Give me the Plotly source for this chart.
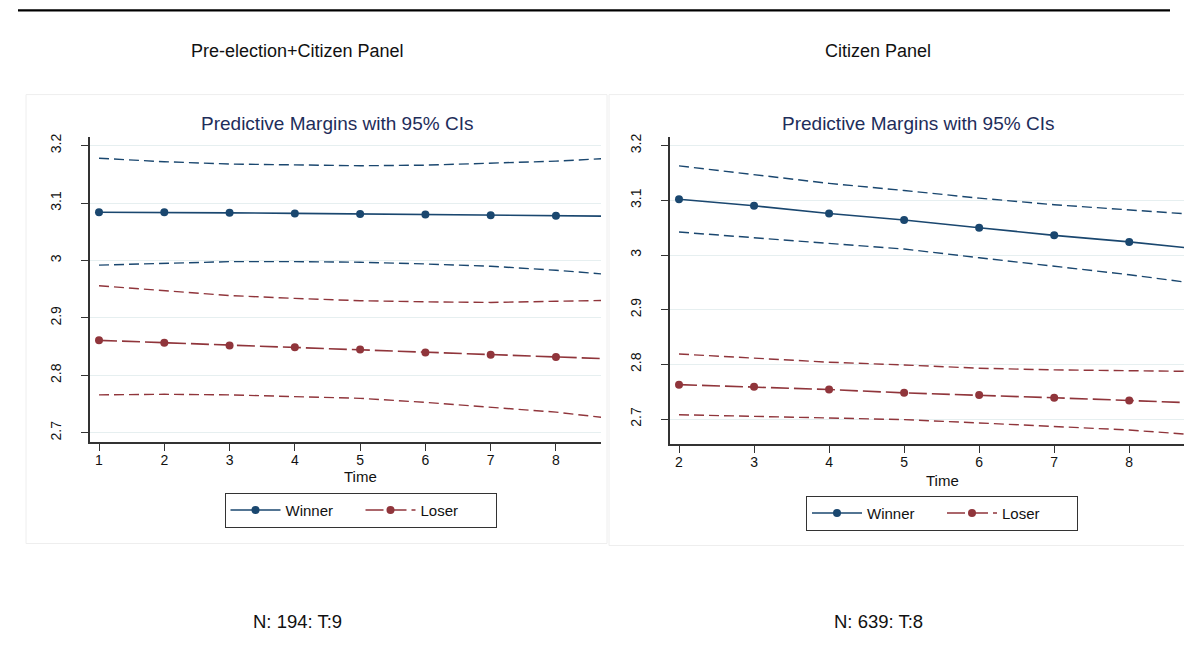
import plotly.graph_objects as go

# ---------------- data ----------------
time_left = [1, 2, 3, 4, 5, 6, 7, 8, 9]
win_left = [3.084, 3.084, 3.083, 3.082, 3.081, 3.080, 3.079, 3.078, 3.077]
win_left_hi = [3.178, 3.172, 3.168, 3.166, 3.165, 3.166, 3.169, 3.173, 3.179]
win_left_lo = [2.992, 2.995, 2.998, 2.998, 2.997, 2.994, 2.990, 2.983, 2.974]
los_left = [2.861, 2.857, 2.852, 2.849, 2.845, 2.840, 2.836, 2.832, 2.828]
los_left_hi = [2.956, 2.947, 2.939, 2.934, 2.930, 2.928, 2.927, 2.929, 2.931]
los_left_lo = [2.766, 2.767, 2.766, 2.763, 2.760, 2.753, 2.745, 2.736, 2.723]

time_right = [2, 3, 4, 5, 6, 7, 8, 9]
win_right = [3.102, 3.090, 3.076, 3.064, 3.050, 3.036, 3.024, 3.010]
win_right_hi = [3.163, 3.147, 3.131, 3.118, 3.104, 3.092, 3.082, 3.073]
win_right_lo = [3.042, 3.032, 3.021, 3.011, 2.995, 2.980, 2.964, 2.946]
los_right = [2.763, 2.759, 2.754, 2.748, 2.744, 2.739, 2.734, 2.729]
los_right_hi = [2.819, 2.811, 2.804, 2.799, 2.793, 2.790, 2.789, 2.787]
los_right_lo = [2.708, 2.705, 2.703, 2.699, 2.693, 2.687, 2.680, 2.670]

yticks = [2.7, 2.8, 2.9, 3.0, 3.1, 3.2]
ytick_text = ["2.7", "2.8", "2.9", "3", "3.1", "3.2"]

panel_titles = ["Pre-election+Citizen Panel", "Citizen Panel"]
panel_notes = ["N: 194: T:9", "N: 639: T:8"]
plot_title = "Predictive Margins with 95% CIs"

# ---------------- style ----------------
W, H = 1184, 657
FONT = "Liberation Sans, Arial, sans-serif"
NAVY = "#1a476f"
MAROON = "#90353b"
TITLE_COL = "#1e2d5a"
GRID = "#e6eff0"


def px(x):
    return x / W


def py(y):
    return 1 - y / H


fig = go.Figure()


def add_panel(t, w, wh, wl, l, lh, ll, xs, ys, legend):
    ci = dict(width=1.4, dash="10px,5px")
    for vals, col in ((wh, NAVY), (wl, NAVY), (lh, MAROON), (ll, MAROON)):
        fig.add_trace(go.Scatter(x=t, y=vals, mode="lines", line=dict(color=col, **ci),
                                 showlegend=False, xaxis=xs, yaxis=ys, hoverinfo="skip"))
    fig.add_trace(go.Scatter(x=t, y=w, mode="lines+markers", name="Winner",
                             line=dict(color=NAVY, width=1.6),
                             marker=dict(color=NAVY, size=8, symbol="circle"),
                             legend=legend, xaxis=xs, yaxis=ys))
    fig.add_trace(go.Scatter(x=t, y=l, mode="lines+markers", name="Loser",
                             line=dict(color=MAROON, width=1.6, dash="18px,5px"),
                             marker=dict(color=MAROON, size=8, symbol="circle"),
                             legend=legend, xaxis=xs, yaxis=ys))


add_panel(time_left, win_left, win_left_hi, win_left_lo, los_left, los_left_hi, los_left_lo,
          "x", "y", "legend")
add_panel(time_right, win_right, win_right_hi, win_right_lo, los_right, los_right_hi, los_right_lo,
          "x2", "y2", "legend2")

axis_common = dict(
    showline=True, linecolor="#333333", linewidth=1.5,
    ticks="outside", ticklen=7, tickcolor="#333333", tickwidth=1,
    tickfont=dict(family=FONT, size=14, color="#111111"),
    zeroline=False,
)
yaxis_extra = dict(tickvals=yticks, ticktext=ytick_text, tickangle=-90, showgrid=True,
                   gridcolor=GRID, gridwidth=1.2, ticklabelstandoff=15)
xaxis_extra = dict(showgrid=False, ticklabelstandoff=-3)

fig.update_layout(
    width=W, height=H,
    margin=dict(l=0, r=0, t=0, b=0),
    paper_bgcolor="white", plot_bgcolor="white",
    font=dict(family=FONT, color="#111111"),
    xaxis=dict(domain=[px(90), px(601)], range=[0.862, 8.69], tickvals=list(range(1, 9)),
               anchor="y", **xaxis_extra, **axis_common),
    yaxis=dict(domain=[py(441), py(134.3)], range=[2.684, 3.2156], anchor="x",
               **yaxis_extra, **axis_common),
    xaxis2=dict(domain=[px(670), 1.0], range=[1.88, 8.73], tickvals=list(range(2, 9)),
                anchor="y2", **xaxis_extra, **axis_common),
    yaxis2=dict(domain=[py(443), py(134.3)], range=[2.6545, 3.2164], anchor="x2",
                **yaxis_extra, **axis_common),
    legend=dict(orientation="h", x=px(360.5), xanchor="center", y=py(492), yanchor="top",
                bordercolor="#333333", borderwidth=1, bgcolor="white",
                font=dict(family=FONT, size=15, color="#111111"), entrywidth=70,
                itemwidth=50),
    legend2=dict(orientation="h", x=px(942), xanchor="center", y=py(495), yanchor="top",
                 bordercolor="#333333", borderwidth=1, bgcolor="white",
                 font=dict(family=FONT, size=15, color="#111111"), entrywidth=70,
                 itemwidth=50),
    showlegend=True,
)

# background boxes and top rule
shapes = [
    dict(type="line", xref="paper", yref="paper", x0=px(18), x1=px(1170), y0=py(7.5), y1=py(7.5),
         line=dict(color="black", width=2.2)),
    dict(type="rect", xref="paper", yref="paper", x0=px(26), x1=px(607), y0=py(543), y1=py(92),
         line=dict(color="#eeeeee", width=1), layer="below"),
    dict(type="rect", xref="paper", yref="paper", x0=px(609), x1=px(1190), y0=py(545), y1=py(92),
         line=dict(color="#eeeeee", width=1), layer="below"),
]
fig.update_layout(shapes=shapes)


def ann(text, x, y, size, color="#111111"):
    return dict(text=text, x=px(x), y=py(y), xref="paper", yref="paper", showarrow=False,
                xanchor="center", yanchor="middle", font=dict(family=FONT, size=size, color=color))


annotations = [
    ann(panel_titles[0], 297, 48, 18),
    ann(panel_titles[1], 878, 48, 18),
    ann(panel_notes[0], 297, 621, 18.5),
    ann(panel_notes[1], 878, 621, 18.5),
    ann(plot_title, 337, 121, 19, TITLE_COL),
    ann(plot_title, 918, 121, 19, TITLE_COL),
    ann("Time", 360, 476, 15),
    ann("Time", 942, 480, 15),
]
fig.update_layout(annotations=annotations)

fig.write_html("out.html")
